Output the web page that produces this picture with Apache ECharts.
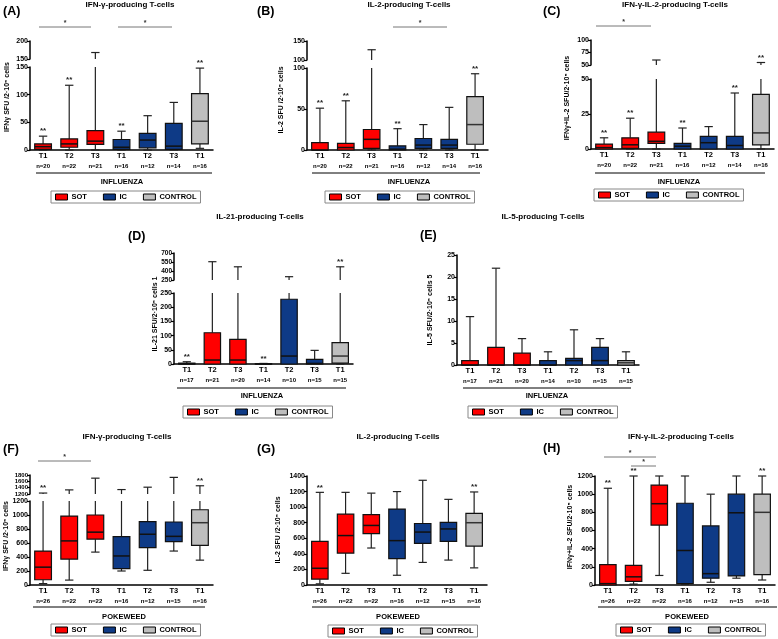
<!DOCTYPE html>
<html><head><meta charset="utf-8">
<script src="https://cdn.jsdelivr.net/npm/echarts@6/dist/echarts.min.js"></script>
<style>html,body{margin:0;padding:0;background:#fff}#c{width:778px;height:639px}</style>
</head><body><div id="c"></div>
<script>
// ================= DATA =================
const catsT = ['T1','T2','T3','T1','T2','T3','T1'];
const nInfABC = [20,22,21,16,12,14,16];
const nInfDE  = [17,21,20,14,10,15,15];
const nPoke   = [26,22,22,16,12,15,16];
const groups = ['SOT','IC','CONTROL'];
// box stats per category: [min, Q1, median, Q3, max]
const A_SOT = [[0,1,6,11,25],[0,5,11,20,117],[0,10,16,35,168]];
const A_IC = [[0,1,5,19,34],[0,4,18,30,62],[0,1,7,48,86]];
const A_CONTROL = [[3,11,52,102,148]];
const A_stars = [1,1,0,1,0,0,1];

const B_SOT = [[0,0,0,9,51],[0,0,3,8,60],[0,2,13,25,127]];
const B_IC = [[0,0,1,5,26],[0,2,6,14,31],[0,2,6,13,52]];
const B_CONTROL = [[0,7,31,65,93]];
const B_stars = [1,1,0,1,0,0,1];

const C_SOT = [[0,0,1,3.5,8],[0,0.5,3,8,22],[0,4,5.5,12,60]];
const C_IC = [[0,0,2,4,15],[0,0,4.5,9,16],[0,0,2.5,9,40]];
const C_CONTROL = [[0,3,11.5,39,55]];
const C_stars = [1,1,0,1,0,1,1];

const D_SOT = [[0,0,1,3,8],[0,0,14,110,555],[0,0,14,87,470]];
const D_IC = [[0,0,0,1,2],[0,0,28,228,305],[0,0,2,16,48]];
const D_CONTROL = [[0,3,28,75,470]];
const D_stars = [1,0,0,1,0,0,1];

const E_SOT = [[0,0,0,1,11],[0,0,0,4,22],[0,0,0,2.7,6]];
const E_IC = [[0,0,0,1,3],[0,0,1,1.5,8],[0,0,1,4,6]];
const E_CONTROL = [[0,0,0.5,1,3]];
const E_stars = [0,0,0,0,0,0,0];

const F_SOT = [[20,75,255,485,1230],[70,370,630,985,1330],[470,655,755,1000,1700]];
const F_IC = [[200,235,415,690,1340],[210,535,725,905,1415],[485,620,695,900,1725]];
const F_CONTROL = [[355,565,890,1075,1460]];
const F_stars = [1,0,0,0,0,0,1];

const G_SOT = [[15,75,215,560,1190],[150,410,635,910,1190],[475,660,765,905,1180]];
const G_IC = [[125,340,570,975,1200],[290,535,680,790,1345],[320,560,720,805,1100]];
const G_CONTROL = [[220,500,800,920,1195]];
const G_stars = [1,0,0,0,0,0,1];

const H_SOT = [[0,0,15,225,1065],[10,40,90,215,1200],[105,660,895,1100,1200]];
const H_IC = [[10,15,380,900,1200],[30,75,125,650,1000],[75,100,795,1000,1200]];
const H_CONTROL = [[55,115,800,1000,1200]];
const H_stars = [1,1,0,0,0,0,1];

const D_upperTicks = [250,400,550,700];

// ================= LAYOUT =================
const FONT = '"Liberation Sans", Arial, sans-serif';
const COLORS = {SOT:'#FF0000', IC:'#0E3A86', CONTROL:'#BEBEBE'};
const MEDC = {SOT:'#111', IC:'#111', CONTROL:'#333'};

const panels = [
 {sets:[A_SOT,A_IC,A_CONTROL], stars:A_stars, n:nInfABC, segs:[
   {grid:{left:30,top:67,width:183,height:83}, min:0,max:150,interval:50, main:true},
   {grid:{left:30,top:41,width:183,height:18}, min:150,max:200,interval:50}]},
 {sets:[B_SOT,B_IC,B_CONTROL], stars:B_stars, n:nInfABC, segs:[
   {grid:{left:307,top:68,width:181,height:82}, min:0,max:100,interval:50, main:true},
   {grid:{left:307,top:41,width:181,height:19}, min:100,max:150,interval:50}]},
 {sets:[C_SOT,C_IC,C_CONTROL], stars:C_stars, n:nInfABC, segs:[
   {grid:{left:591,top:79,width:183,height:70}, min:0,max:50,interval:25, main:true},
   {grid:{left:591,top:40,width:183,height:25}, min:50,max:100,interval:25}]},
 {sets:[D_SOT,D_IC,D_CONTROL], stars:D_stars, n:nInfDE, segs:[
   {grid:{left:174,top:293,width:179,height:71}, min:0,max:250,interval:50, main:true},
   {grid:{left:174,top:253,width:179,height:27}, min:250,max:700,interval:150, custom:D_upperTicks, fs:6.5}]},
 {sets:[E_SOT,E_IC,E_CONTROL], stars:E_stars, n:nInfDE, segs:[
   {grid:{left:457,top:255,width:182,height:110}, min:0,max:25,interval:5, main:true}]},
 {sets:[F_SOT,F_IC,F_CONTROL], stars:F_stars, n:nPoke, segs:[
   {grid:{left:30,top:501,width:183,height:84}, min:0,max:1200,interval:200, main:true},
   {grid:{left:30,top:475,width:183,height:19}, min:1200,max:1800,interval:200, fs:6}]},
 {sets:[G_SOT,G_IC,G_CONTROL], stars:G_stars, n:nPoke, segs:[
   {grid:{left:307,top:476,width:180,height:109}, min:0,max:1400,interval:200, main:true}]},
 {sets:[H_SOT,H_IC,H_CONTROL], stars:H_stars, n:nPoke, segs:[
   {grid:{left:595,top:476,width:180,height:109}, min:0,max:1200,interval:200, main:true}]}
];

function makeRender(lo, hi, fill, medColor) {
  return function (params, api) {
    const i = api.value(0);
    const v = [api.value(1), api.value(2), api.value(3), api.value(4), api.value(5)];
    const st = api.value(6);
    const step = api.size([1, 0])[0];
    const bw = step * 0.64, cw = bw * 0.5;
    const cx = api.coord([i, lo])[0];
    const Y = t => api.coord([i, Math.max(lo, Math.min(hi, t))])[1];
    const inR = t => t >= lo && t <= hi;
    const ls = {stroke:'#222', lineWidth:1.2};
    const ch = [];
    if (v[1] > v[0] && v[0] < hi && v[1] > lo)
      ch.push({type:'line', shape:{x1:cx,y1:Y(v[0]),x2:cx,y2:Y(v[1])}, style:ls});
    if (v[1] > v[0] && inR(v[0]))
      ch.push({type:'line', shape:{x1:cx-cw/2,y1:Y(v[0]),x2:cx+cw/2,y2:Y(v[0])}, style:ls});
    if (v[4] > v[3] && v[4] > lo && v[3] < hi)
      ch.push({type:'line', shape:{x1:cx,y1:Y(v[3]),x2:cx,y2:Y(v[4])}, style:ls});
    if (v[4] > v[3] && inR(v[4]))
      ch.push({type:'line', shape:{x1:cx-cw/2,y1:Y(v[4]),x2:cx+cw/2,y2:Y(v[4])}, style:ls});
    if (v[3] > lo && v[1] < hi && v[3] > v[1]) {
      const y3 = Y(v[3]), y1 = Y(v[1]);
      ch.push({type:'rect', shape:{x:cx-bw/2, y:y3, width:bw, height:y1-y3},
        style:{fill:fill, stroke:'#111', lineWidth:1.2}});
    }
    if (inR(v[2]) && v[3] > v[1])
      ch.push({type:'line', shape:{x1:cx-bw/2,y1:Y(v[2]),x2:cx+bw/2,y2:Y(v[2])}, style:{stroke:medColor, lineWidth:1.5}});
    if (st && inR(v[4]))
      ch.push({type:'text', style:{text:'**', x:cx, y:Y(v[4]) - 1, align:'center', verticalAlign:'bottom',
        textAlign:'center', textVerticalAlign:'bottom', fontSize:8, fontWeight:'bold', fontFamily:FONT, fill:'#222'}});
    return {type:'group', children:ch};
  };
}

const grids = [], xAxes = [], yAxes = [], series = [];
panels.forEach(p => {
  p.segs.forEach(s => {
    const gi = grids.length;
    grids.push(Object.assign({containLabel:false}, s.grid));
    xAxes.push({
      gridIndex:gi, type:'category', data:catsT, show:!!s.main,
      axisLine:{lineStyle:{color:'#000', width:1.5}},
      axisTick:{alignWithLabel:true, interval:0, length:3, lineStyle:{color:'#000', width:1.2}},
      axisLabel:{interval:0, margin:1, color:'#000',
        formatter:(val, idx) => '{t|' + val + '}\n{n|n=' + p.n[idx] + '}',
        rich:{t:{fontSize:7.5, fontWeight:'bold', lineHeight:9, fontFamily:FONT, color:'#000'},
              n:{fontSize:6, fontWeight:'bold', lineHeight:12, fontFamily:FONT, color:'#000'}}},
      splitLine:{show:false}
    });
    const ya = {
      gridIndex:gi, type:'value', min:s.min, max:s.max, interval:s.interval,
      axisLine:{show:true, lineStyle:{color:'#000', width:1.5}},
      axisTick:{show:true, length:3, lineStyle:{color:'#000', width:1.2}},
      axisLabel:{fontSize:s.fs || 7, fontWeight:'bold', color:'#000', margin:2, fontFamily:FONT,
        showMinLabel:true, showMaxLabel:true, hideOverlap:false, formatter:v => String(v)},
      splitLine:{show:false}
    };
    if (s.custom) { ya.axisLabel.customValues = s.custom; ya.axisTick.customValues = s.custom; }
    yAxes.push(ya);
    groups.forEach((g, k) => {
      const off = [0,3,6][k];
      series.push({
        type:'custom', name:g, xAxisIndex:gi, yAxisIndex:gi, silent:true,
        itemStyle:{color:COLORS[g], borderColor:'#000', borderWidth:1},
        renderItem:makeRender(s.min, s.max, COLORS[g], MEDC[g]),
        encode:{x:0, y:[1,2,3,4,5]},
        data:p.sets[k].map((d, j) => [off + j].concat(d, [p.stars[off + j]]))
      });
    });
  });
});

const legendPos = [[51,191],[325,191],[594,189],[183,406],[468,406],[51,624],[328,625],[616,624]];
const legends = legendPos.map(([x, y]) => ({
  left:x, top:y, orient:'horizontal', padding:[2,4], itemGap:16, itemWidth:12, itemHeight:6,
  icon:'rect', borderColor:'#888', borderWidth:1, selectedMode:false,
  itemStyle:{borderColor:'#000', borderWidth:1},
  textStyle:{fontSize:7.5, fontWeight:'bold', fontFamily:FONT, color:'#000', padding:[0,0,0,-1]},
  data:groups
}));

const G = [];
function txt(x, y, s, size, extra) {
  G.push({type:'text', x:x, y:y, silent:true, rotation:(extra && extra.rot) || 0,
    style:{text:s, fontSize:size, fontWeight:'bold', fontFamily:FONT, fill:(extra && extra.fill) || '#000',
      align:(extra && extra.align) || 'center', textAlign:(extra && extra.align) || 'center',
      verticalAlign:'middle', textVerticalAlign:'middle'}});
}
function ln(x1, y1, x2, y2, color, w) {
  G.push({type:'line', silent:true, shape:{x1:x1,y1:y1,x2:x2,y2:y2}, style:{stroke:color, lineWidth:w}});
}
// panel letters
[['(A)',3,12],['(B)',257,12],['(C)',543,12],['(D)',128,237],['(E)',420,236],['(F)',3,450],['(G)',257,450],['(H)',543,449]]
  .forEach(([s,x,y]) => txt(x, y, s, 12.5, {align:'left'}));
// titles
[['IFN-γ-producing T-cells',130,5],['IL-2-producing T-cells',409,5],['IFN-γ-IL-2-producing T-cells',675,5],
 ['IL-21-producing T-cells',260,217],['IL-5-producing T-cells',543,217],
 ['IFN-γ-producing T-cells',127,437],['IL-2-producing T-cells',398,437],['IFN-γ-IL-2-producing T-cells',681,437]]
  .forEach(([s,x,y]) => txt(x, y, s, 8));
// y-axis titles
[['IFNγ SFU /2·10⁵ cells',7,97],['IL-2 SFU /2·10⁵ cells',281,100],['IFNγ+IL-2 SFU/2·10⁵ cells',567,98],
 ['IL-21 SFU/2·10⁵ cells 1',155,314],['IL-5 SFU/2·10⁵ cells 5',430,310],
 ['IFNγ SFU /2·10⁵ cells',6,536],['IL-2 SFU /2·10⁵ cells',278,530],['IFNγ+IL-2 SFU/2·10⁵ cells',570,527]]
  .forEach(([s,x,y]) => txt(x, y, s, 7, {rot:Math.PI/2}));
// stimulus group labels with underline
[['INFLUENZA',36,212,173,122,182],['INFLUENZA',312,480,173,409,182],['INFLUENZA',595,765,173,679,182],
 ['INFLUENZA',177,346,388,262,396],['INFLUENZA',463,631,388,547,396],
 ['POKEWEED',33,205,607,124,617],['POKEWEED',312,480,607,398,617],['POKEWEED',598,777,607,687,617]]
  .forEach(([s,x1,x2,y,tx,ty]) => { ln(x1,y,x2,y,'#000',1); txt(tx, ty, s, 7.5); });
// significance bars
[[39,91,27],[118,172,27],[393,447,27],[596,651,26],[38,91,461],[604,656,457],[631,656,466]]
  .forEach(([x1,x2,y]) => { ln(x1,y,x2,y,'#777',1); txt((x1+x2)/2, y-4, '*', 7, {fill:'#333'}); });

const chart = echarts.init(document.getElementById('c'));
chart.setOption({
  animation:false, backgroundColor:'#fff',
  grid:grids, xAxis:xAxes, yAxis:yAxes, series:series, legend:legends, graphic:G
});
</script></body></html>
